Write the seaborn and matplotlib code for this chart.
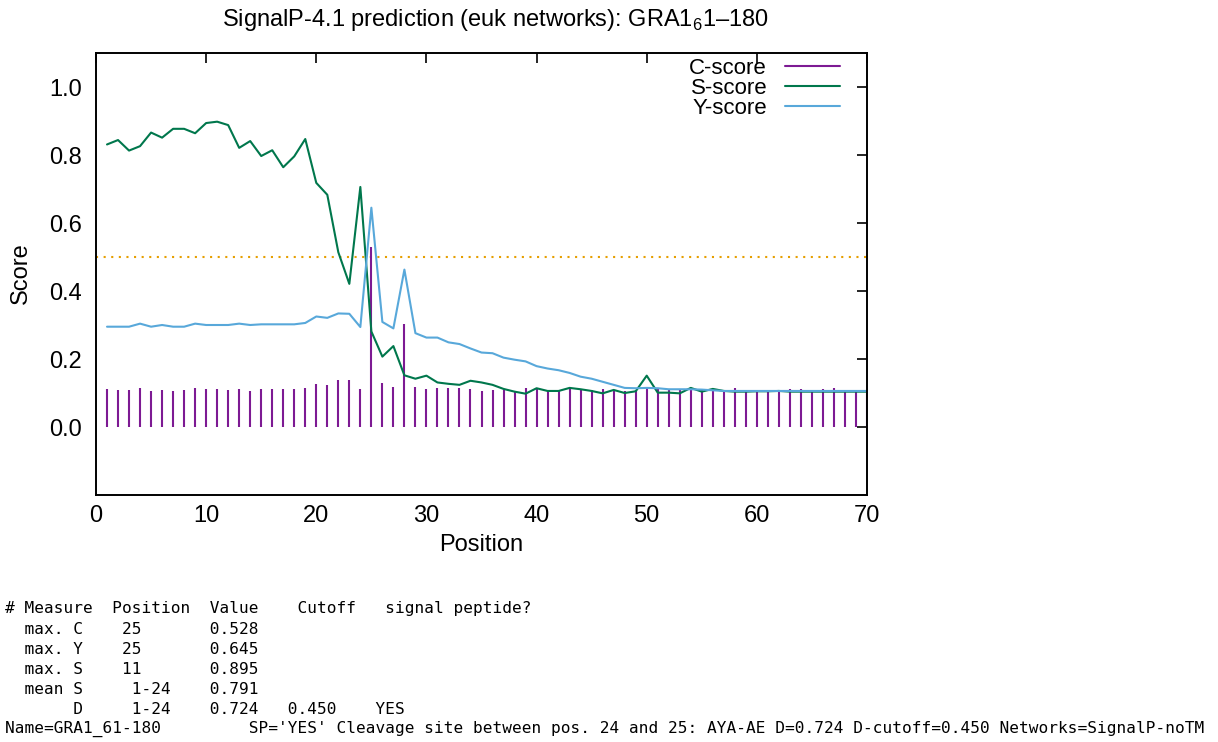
import numpy as np
import pandas as pd
import matplotlib
matplotlib.use("Agg")
import matplotlib.pyplot as plt
import seaborn as sns
from matplotlib.lines import Line2D

positions = list(range(1, 71))

c_score = [0.111, 0.108, 0.108, 0.116, 0.107, 0.108, 0.107, 0.108, 0.116, 0.112,
           0.112, 0.108, 0.111, 0.107, 0.112, 0.111, 0.112, 0.111, 0.114, 0.127,
           0.125, 0.138, 0.139, 0.113, 0.528, 0.128, 0.118, 0.304, 0.118, 0.111,
           0.116, 0.114, 0.114, 0.111, 0.106, 0.109, 0.108, 0.106, 0.114, 0.114,
           0.106, 0.106, 0.114, 0.111, 0.109, 0.112, 0.108, 0.106, 0.108, 0.114,
           0.112, 0.109, 0.108, 0.114, 0.112, 0.111, 0.106, 0.114, 0.108, 0.108,
           0.106, 0.108, 0.111, 0.112, 0.109, 0.111, 0.114, 0.106, 0.106, 0.106]

s_score = [0.831, 0.844, 0.813, 0.826, 0.866, 0.851, 0.877, 0.877, 0.864, 0.894,
           0.898, 0.888, 0.821, 0.841, 0.797, 0.814, 0.764, 0.796, 0.847, 0.718,
           0.683, 0.514, 0.421, 0.706, 0.281, 0.207, 0.238, 0.152, 0.142, 0.151,
           0.131, 0.127, 0.124, 0.136, 0.131, 0.124, 0.112, 0.104, 0.098, 0.114,
           0.106, 0.106, 0.115, 0.111, 0.106, 0.099, 0.109, 0.100, 0.105, 0.151,
           0.101, 0.101, 0.099, 0.115, 0.104, 0.112, 0.106, 0.104, 0.104, 0.105,
           0.105, 0.106, 0.104, 0.104, 0.104, 0.104, 0.104, 0.104, 0.104, 0.104]

y_score = [0.295, 0.295, 0.295, 0.304, 0.295, 0.300, 0.295, 0.295, 0.304, 0.300,
           0.300, 0.300, 0.304, 0.300, 0.302, 0.302, 0.302, 0.302, 0.306, 0.325,
           0.321, 0.334, 0.333, 0.294, 0.645, 0.309, 0.290, 0.463, 0.276, 0.263,
           0.263, 0.249, 0.244, 0.231, 0.219, 0.217, 0.204, 0.198, 0.193, 0.179,
           0.172, 0.167, 0.159, 0.148, 0.142, 0.133, 0.124, 0.115, 0.114, 0.115,
           0.114, 0.111, 0.111, 0.111, 0.110, 0.108, 0.106, 0.106, 0.106, 0.106,
           0.106, 0.106, 0.106, 0.106, 0.106, 0.106, 0.106, 0.106, 0.106, 0.106]

cutoff = 0.5
x_ticks = [0, 10, 20, 30, 40, 50, 60, 70]
y_ticks = [0.0, 0.2, 0.4, 0.6, 0.8, 1.0]
legend_labels = ["C-score", "S-score", "Y-score"]

title_text = r"SignalP-4.1 prediction (euk networks): GRA1$_{\mathregular{6}}$1–180"
summary_lines = [
    "# Measure  Position  Value    Cutoff   signal peptide?",
    "  max. C    25       0.528",
    "  max. Y    25       0.645",
    "  max. S    11       0.895",
    "  mean S     1-24    0.791",
    "       D     1-24    0.724   0.450    YES",
    "Name=GRA1_61-180         SP='YES' Cleavage site between pos. 24 and 25: AYA-AE D=0.724 D-cutoff=0.450 Networks=SignalP-noTM",
]

C_COL = "#7d1a93"
S_COL = "#00774c"
Y_COL = "#58a8da"
CUT_COL = "#e69f00"
LW = 1.5

sns.set_theme(style="white")
plt.rcParams["font.family"] = ["Liberation Sans", "DejaVu Sans"]
plt.rcParams["mathtext.fontset"] = "custom"
plt.rcParams["mathtext.rm"] = "Liberation Sans"
plt.rcParams["text.color"] = "black"

df = pd.DataFrame({"pos": positions, "C": c_score, "S": s_score, "Y": y_score})

W, H = 1218, 742
fig = plt.figure(figsize=(W / 100, H / 100), dpi=100)
ax = fig.add_axes([96 / W, 1 - 495 / H, (867 - 96) / W, (495 - 53) / H])

ax.vlines(df["pos"], 0, df["C"], color=C_COL, lw=LW)
sns.lineplot(data=df, x="pos", y="S", ax=ax, color=S_COL, lw=LW, legend=False)
sns.lineplot(data=df, x="pos", y="Y", ax=ax, color=Y_COL, lw=LW, legend=False)
ax.axhline(cutoff, color=CUT_COL, lw=LW, ls=(0, (1, 2.65)), zorder=0.5)

ax.set_xlim(0, 70)
ax.set_ylim(-0.2, 1.1)
ax.set_xticks(x_ticks)
ax.set_yticks(y_ticks)
ax.set_xticklabels([str(t) for t in x_ticks])
ax.set_yticklabels([f"{t:.1f}" for t in y_ticks])
ax.tick_params(direction="in", length=7, width=1.2, top=True, right=True,
               labelsize=17, colors="black", pad=7)
ax.tick_params(axis="y", pad=10)
for sp in ax.spines.values():
    sp.set_color("black")
    sp.set_linewidth(1.4)
ax.set_xlabel("")
ax.set_ylabel("")

handles = [Line2D([], [], color=C_COL, lw=LW),
           Line2D([], [], color=S_COL, lw=LW),
           Line2D([], [], color=Y_COL, lw=LW)]
leg = ax.legend(handles, legend_labels, loc="upper right",
                bbox_to_anchor=((840 - 96) / 771, 1 - 5 / 442), frameon=False, fontsize=16,
                markerfirst=False, handlelength=2.48, handletextpad=0.8,
                labelspacing=-0.05, borderaxespad=0.0, borderpad=0.0,
                labelcolor="black")

fig.text(495 / W, 1 - 20 / H, title_text, ha="center", va="center", fontsize=17)
fig.text(21 / W, 1 - 273 / H, "Score", ha="center", va="center", rotation=90, fontsize=17)
fig.text(481 / W, 1 - 545 / H, "Position", ha="center", va="center", fontsize=17)

line_y = [609, 629, 649, 669, 689, 709, 729]
for yy, txt in zip(line_y, summary_lines):
    fig.text(5 / W, 1 - yy / H, txt, ha="left", va="center",
             family="DejaVu Sans Mono", fontsize=11.6)

fig.savefig("out.png", dpi=100)
